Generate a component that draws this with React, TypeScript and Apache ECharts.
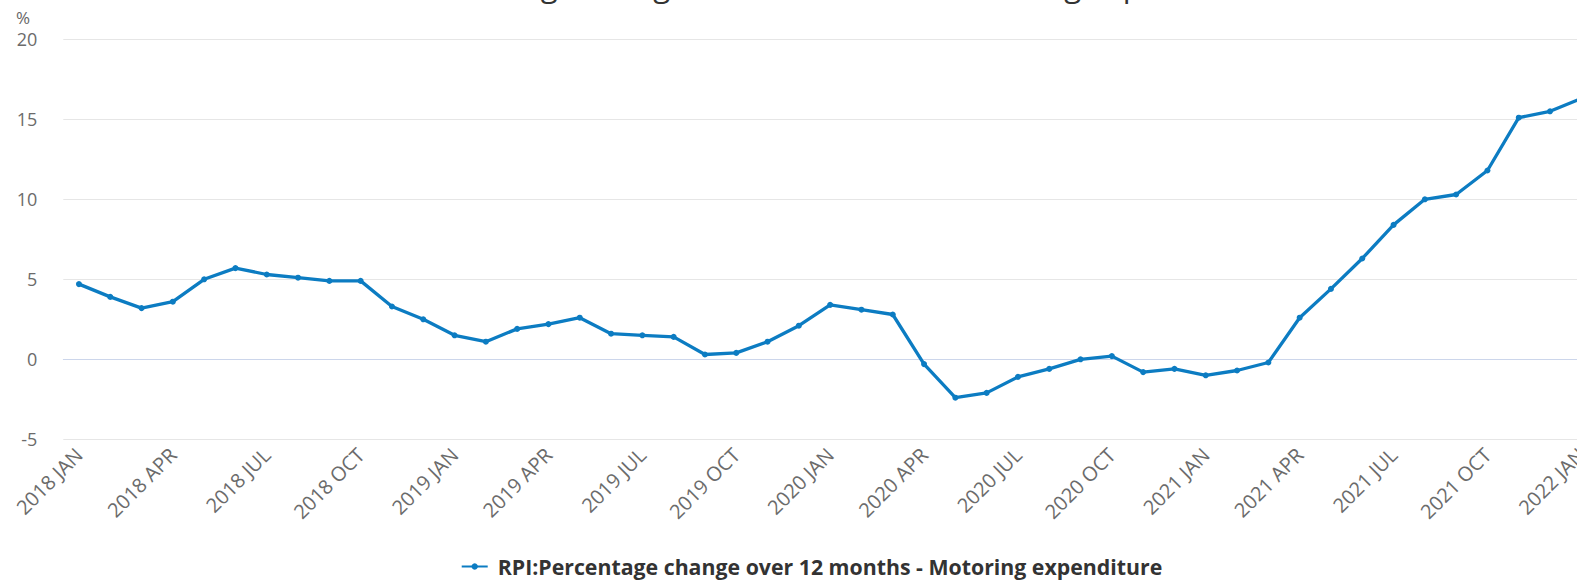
import React, { useEffect, useRef } from "react";
import * as echarts from "echarts";

const TITLE = "RPI:Percentage change over 12 months - Motoring expenditure";
const SERIES_NAME = "RPI:Percentage change over 12 months - Motoring expenditure";
const YEARS = ["2018", "2019", "2020", "2021"];
const MONTHS = ["JAN", "FEB", "MAR", "APR", "MAY", "JUN", "JUL", "AUG", "SEP", "OCT", "NOV", "DEC"];
const LAST_CATEGORY = "2022 JAN";
const categories: string[] = [...YEARS.flatMap((y) => MONTHS.map((m) => `${y} ${m}`)), LAST_CATEGORY];

const values2018 = [4.7, 3.9, 3.2, 3.6, 5.0, 5.7, 5.3, 5.1, 4.9, 4.9, 3.3, 2.5];
const values2019 = [1.5, 1.1, 1.9, 2.2, 2.6, 1.6, 1.5, 1.4, 0.3, 0.4, 1.1, 2.1];
const values2020 = [3.4, 3.1, 2.8, -0.3, -2.4, -2.1, -1.1, -0.6, 0.0, 0.2, -0.8, -0.6];
const values2021 = [-1.0, -0.7, -0.2, 2.6, 4.4, 6.3, 8.4, 10.0, 10.3, 11.8, 15.1, 15.5];
const values2022 = [16.3];
const values = [...values2018, ...values2019, ...values2020, ...values2021, ...values2022];

const Y_MIN = -5;
const Y_MAX = 20;
const Y_STEP = 5;

const FONT = "'Open Sans', 'Noto Sans', sans-serif";
const LINE_COLOR = "#0c7cc2";

export default function App() {
  const ref = useRef<HTMLDivElement>(null);
  useEffect(() => {
    if (!ref.current) return;
    const chart = echarts.init(ref.current, undefined, { renderer: "svg" });
    chart.setOption({
      animation: false,
      backgroundColor: "#ffffff",
      textStyle: { fontFamily: FONT },
      title: {
        text: TITLE,
        left: "center",
        top: -36,
        textStyle: { fontFamily: FONT, fontSize: 31, fontWeight: "normal", color: "#333333" },
      },
      graphic: [
        {
          type: "text",
          left: 16,
          top: 9,
          style: { text: "%", fontFamily: FONT, fontSize: 17, fill: "#666666" },
        },
      ],
      legend: {
        bottom: -2,
        left: "center",
        itemWidth: 26,
        itemHeight: 8,
        itemGap: 8,
        textStyle: { fontFamily: FONT, fontSize: 21.3, fontWeight: "bold", color: "#333333", padding: [0, 0, 0, 5] },
        data: [SERIES_NAME],
      },
      grid: { left: 63.3, top: 39.3, width: 1533.7, height: 400, containLabel: false },
      xAxis: {
        type: "category",
        data: categories,
        boundaryGap: true,
        axisLine: { lineStyle: { color: "#ccd6eb", width: 1 } },
        axisTick: { alignWithLabel: true, interval: 2, length: 13, lineStyle: { color: "#ccd6eb" } },
        axisLabel: {
          interval: 2,
          rotate: 45,
          margin: 12,
          fontFamily: FONT,
          fontSize: 20,
          color: "#6b6b6b",
        },
        splitLine: { show: false },
      },
      yAxis: {
        type: "value",
        min: Y_MIN,
        max: Y_MAX,
        interval: Y_STEP,
        axisLine: { show: false },
        axisTick: { show: false },
        axisLabel: { margin: 26, fontFamily: FONT, fontSize: 18, color: "#6b6b6b" },
        splitLine: { lineStyle: { color: "#e6e6e6", width: 1 } },
      },
      series: [
        {
          name: SERIES_NAME,
          type: "line",
          data: values,
          color: LINE_COLOR,
          lineStyle: { color: LINE_COLOR, width: 3.3 },
          itemStyle: { color: LINE_COLOR },
          symbol: "circle",
          symbolSize: 6,
          showSymbol: true,
        },
      ],
    });
    return () => chart.dispose();
  }, []);
  return (
    <div style={{ position: "fixed", left: 0, top: 0, width: "100vw", height: "100vh", overflow: "hidden", background: "#fff" }}>
      <div ref={ref} style={{ position: "absolute", left: 0, top: 0, width: 1623, height: 580 }} />
    </div>
  );
}
